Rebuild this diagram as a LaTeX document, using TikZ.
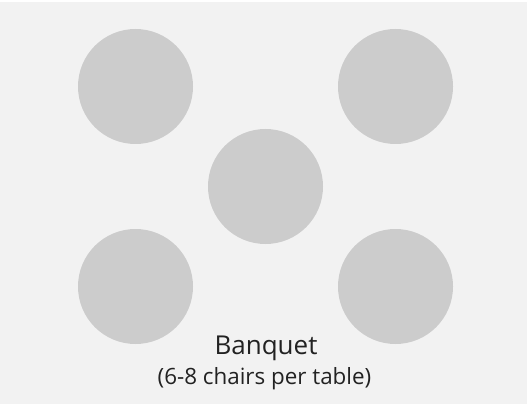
\documentclass[tikz,border=0pt]{standalone}
\usepackage{fontspec}
\setmainfont{Open Sans}
\usetikzlibrary{positioning}
\definecolor{roomgray}{HTML}{F2F2F2}
\definecolor{tablegray}{HTML}{CCCCCC}
\definecolor{textgray}{HTML}{222222}
\begin{document}
\begin{tikzpicture}[
    x=1pt, y=-1pt,
    table/.style={circle, fill=tablegray, minimum size=115pt, inner sep=0pt},
    caption/.style={text=textgray, inner sep=0pt, anchor=base}
]
\useasboundingbox (0,0) rectangle (527,406);
\fill[roomgray] (0,2) rectangle (527,404);

\node[table] (tl) at (135.5,86.5) {};
\node[table] (tr) at (395.5,86.5) {};
\node[table] (mid) at (265.5,186.5) {};
\node[table] (bl) at (135.5,286.5) {};
\node[table] (br) at (395.5,286.5) {};

\node[caption, font=\fontsize{26}{30}\selectfont] (title) at (266,354) {Banquet};
\node[caption, font=\fontsize{22.4}{26}\selectfont] (sub) at (264.5,384) {(6-8 chairs per table)};

\end{tikzpicture}
\end{document}
